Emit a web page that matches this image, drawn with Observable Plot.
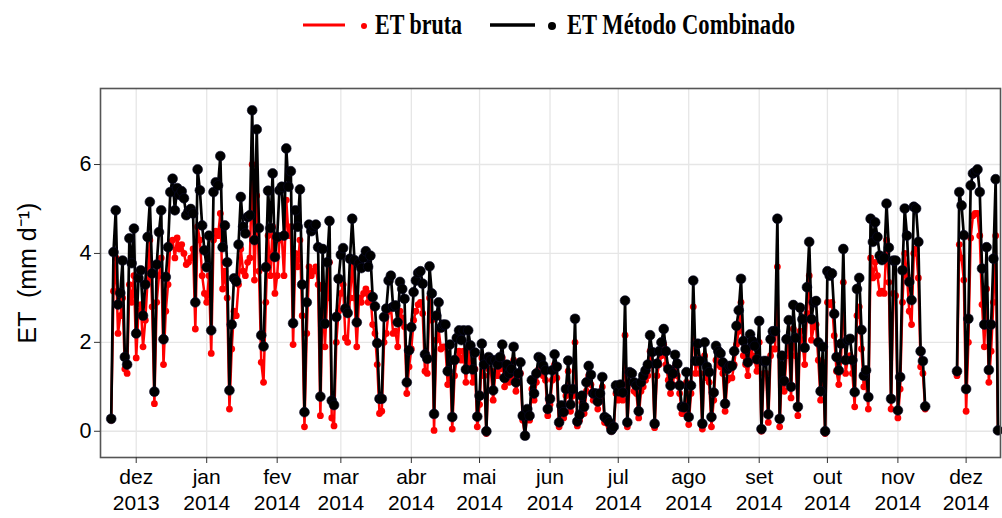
<!DOCTYPE html>
<html><head><meta charset="utf-8">
<script src="https://cdn.jsdelivr.net/npm/d3@7"></script>
<script src="https://cdn.jsdelivr.net/npm/@observablehq/plot@0.6"></script>
<style>
html,body{margin:0;padding:0;background:#fff;}
body{width:1002px;height:518px;overflow:hidden;font-family:"Liberation Sans",Arial,sans-serif;}
#legend{display:block;width:1002px;height:44px;}
#chart svg{display:block;}
</style></head><body>
<svg id="legend" width="1002" height="44"></svg>
<div id="chart"></div>
<script>
// ---- data (daily ET, mm/d) ----
const seriesNames = ["ET bruta", "ET Método Combinado"];
const monthLabels = ["dez","jan","fev","mar","abr","mai","jun","jul","ago","set","out","nov","dez"];
const yearLabels  = ["2013","2014","2014","2014","2014","2014","2014","2014","2014","2014","2014","2014","2014"];
const yTicks = [0, 2, 4, 6];

const combNov2013  = [0.28,4.03,4.97,2.85,3.11,3.84,1.67,1.50,4.34,3.78,4.56];
const brutaNov2013 = [0.25,3.15,3.9,2.2,2.6,3.0,1.4,1.3,3.3,2.9,3.5];
const combDec2013  = [2.2,3.45,3.62,2.6,3.3,4.37,5.16,3.55,0.89,3.75,4.48,4.97,2.07,3.47,4.14,5.38,5.68,4.97,5.47,5.32,5.4,5.24,4.86,4.95,5.0,4.9,2.9,5.89,5.42,4.63,4.07];
const brutaDec2013 = [1.65,2.7,2.85,1.9,2.5,3.4,4.3,2.8,0.62,2.9,3.5,3.9,1.5,2.7,3.3,4.25,4.3,3.9,4.35,4.1,4.2,4.0,3.75,3.8,3.9,4.1,2.3,4.6,4.3,3.5,3.1];
const combJan2014  = [3.69,4.4,2.27,5.38,5.6,5.53,6.19,4.14,4.63,3.8,0.92,2.4,3.44,3.37,4.2,5.27,4.6,4.45,4.82,4.86,7.22,4.3,6.79,4.57,2.16,1.91,3.69,5.41,4.57,5.8,3.92];
const brutaJan2014 = [2.9,3.5,1.75,4.3,4.5,4.4,4.9,3.2,3.6,3.0,0.5,1.85,2.7,2.6,3.3,4.1,3.6,3.5,3.8,3.9,6.0,3.4,5.3,3.6,1.55,1.1,2.9,4.4,3.5,4.6,3.1];
const combFeb2014  = [4.37,5.42,5.5,4.4,6.36,5.5,5.85,2.43,4.97,4.6,5.44,3.3,0.43,2.9,4.65,4.5,4.6,4.65,4.14,0.78,4.1,2.42,3.8,4.73,0.69,0.59,2.57,3.43];
const brutaFeb2014 = [3.5,4.3,4.4,3.5,5.2,4.4,4.6,1.95,4.0,3.7,4.3,2.6,0.1,2.2,3.7,3.5,3.6,3.7,3.3,0.35,3.2,1.9,3.0,3.8,0.3,0.12,2.0,2.7];
const combMar2014  = [3.97,4.12,2.76,2.66,3.88,4.78,3.85,2.45,3.78,3.67,3.9,4.05,3.7,3.95,3.02,2.81,1.98,0.73,0.73,2.57,2.76,3.39,3.5,2.8,2.83,2.45,3.36,3.2,2.98,1.1,1.82];
const brutaMar2014 = [3.1,3.3,2.1,2.0,3.0,3.8,3.0,1.9,3.0,2.9,3.1,3.2,2.9,3.1,2.4,2.2,1.5,0.4,0.45,2.0,2.2,2.7,2.8,2.2,2.25,1.9,2.7,2.55,2.35,0.85,1.45];
const combApr2014  = [2.34,3.13,3.39,3.56,3.6,3.32,1.73,1.63,3.71,3.1,0.39,2.6,2.9,2.33,2.4,2.4,1.35,1.95,0.32,1.6,2.1,2.27,2.05,2.27,1.39,2.27,1.93,1.39,1.77,0.33];
const brutaApr2014 = [1.85,2.5,2.7,2.85,2.9,2.65,1.35,1.3,3.0,2.5,0.02,2.05,2.3,1.85,1.9,1.9,1.05,1.55,0.05,1.25,1.65,1.8,1.6,1.8,1.1,1.8,1.5,1.1,1.4,0.1];
const combMay2014  = [0.8,1.97,1.5,0.0,1.67,1.6,0.92,1.6,1.5,1.67,1.95,1.2,1.5,1.3,1.4,1.9,1.1,1.3,1.55,0.35,-0.1,0.5,0.35,1.15,0.85,1.3,1.67,1.63,1.48,1.37,0.5];
const brutaMay2014 = [0.6,1.65,1.25,-0.05,1.4,1.35,0.7,1.35,1.25,1.4,1.65,1.0,1.25,1.1,1.2,1.6,0.9,1.1,1.3,0.25,-0.12,0.4,0.25,0.95,0.7,1.1,1.4,1.4,1.25,1.15,0.35];
const combJun2014  = [0.73,1.37,1.73,1.45,0.2,0.58,0.43,0.95,1.59,0.6,0.95,2.53,0.22,0.37,0.8,0.55,1.1,1.47,1.27,0.85,0.85,0.67,0.85,1.22,0.32,0.28,0.2,0.03,0.1,1.03];
const brutaJun2014 = [0.6,1.15,1.5,1.2,0.1,0.45,0.3,0.8,1.35,0.45,0.8,2.0,0.12,0.25,0.65,0.4,0.9,1.25,1.05,0.7,0.7,0.5,0.7,1.0,0.2,0.18,0.1,0.0,0.05,0.85];
const combJul2014  = [0.9,1.05,0.87,2.94,0.2,1.33,1.3,1.1,1.03,0.45,1.1,1.25,1.37,1.5,2.16,1.78,0.17,1.52,1.8,2.0,2.3,1.8,1.4,1.03,1.3,1.72,1.52,1.03,0.55,0.54,1.33];
const brutaJul2014 = [0.7,0.85,0.7,2.16,0.1,1.1,1.1,0.9,0.85,0.3,0.9,1.0,1.15,1.25,1.8,1.5,0.08,1.25,1.5,1.7,1.95,1.5,1.15,0.85,1.05,1.45,1.25,0.85,0.4,0.4,1.1];
const combAug2014  = [0.32,1.03,3.39,1.58,1.97,1.58,0.17,2.0,1.45,1.33,0.32,0.87,1.92,1.8,1.75,1.55,0.62,1.4,1.47,1.47,1.8,2.37,2.72,3.43,2.03,1.85,1.55,2.18,2.03,1.92,1.62];
const brutaAug2014 = [0.15,0.85,2.8,1.3,1.65,1.3,0.05,1.7,1.2,1.1,0.1,0.7,1.6,1.5,1.45,1.3,0.45,1.15,1.2,1.2,1.5,1.95,2.25,2.9,1.7,1.5,1.25,1.8,1.7,1.6,1.35];
const combSep2014  = [2.48,0.05,1.58,1.58,0.38,2.07,2.25,2.25,4.78,0.28,1.7,1.13,2.07,2.5,1.0,2.84,2.1,0.55,2.78,2.52,1.88,3.24,4.26,2.52,2.9,2.93,2.0,0.9,1.9,0.0];
const brutaSep2014 = [2.0,0.0,1.3,1.3,0.2,1.7,1.85,1.85,3.7,0.1,1.4,0.9,1.7,2.05,0.75,2.3,1.7,0.35,2.25,2.05,1.5,2.65,3.5,2.05,2.35,2.4,1.6,0.7,1.55,-0.05];
const combOct2014  = [3.6,3.5,3.55,2.64,1.67,1.37,1.97,4.1,1.6,2.05,2.08,1.6,0.88,3.2,3.45,2.28,1.25,1.37,0.77,4.78,4.26,4.7,4.37,3.95,3.85,3.9,5.12,4.13,0.73,3.84,3.84];
const brutaOct2014 = [2.9,2.85,2.9,2.15,1.35,1.05,1.6,3.35,1.3,1.65,1.7,1.3,0.55,2.6,2.8,1.85,1.0,1.1,0.5,3.9,3.45,3.8,3.5,3.1,3.15,3.1,4.3,3.35,0.5,3.1,3.05];
const combNov2014a  = [0.47,1.22,3.62,5.01,4.4,3.36,2.95,5.05,5.01,4.26,1.8,1.58,0.56];
const brutaNov2014a = [0.3,0.95,2.9,4.0,3.5,2.7,2.4,4.0,4.1,3.45,1.45,1.3,0.5];
const combNov2014b  = [1.35,5.38,5.08,4.41];
const brutaNov2014b = [1.25,4.2,3.9,3.4];
const combDec2014  = [0.95,2.53,5.53,5.8,5.83,5.89,5.38,3.66,2.4,4.14,1.38,2.4,3.88,5.67,0.02];
const brutaDec2014 = [0.45,2.0,4.35,4.85,4.9,4.9,4.4,2.85,1.9,3.2,1.1,1.8,2.9,4.4,0.0];

// segments: [first day, combined, raw, continuous part]
const segments = [
  ["2013-11-20", combNov2013, brutaNov2013, 1],
  ["2013-12-01", combDec2013, brutaDec2013, 1],
  ["2014-01-01", combJan2014, brutaJan2014, 1],
  ["2014-02-01", combFeb2014, brutaFeb2014, 1],
  ["2014-03-01", combMar2014, brutaMar2014, 1],
  ["2014-04-01", combApr2014, brutaApr2014, 1],
  ["2014-05-01", combMay2014, brutaMay2014, 1],
  ["2014-06-01", combJun2014, brutaJun2014, 1],
  ["2014-07-01", combJul2014, brutaJul2014, 1],
  ["2014-08-01", combAug2014, brutaAug2014, 1],
  ["2014-09-01", combSep2014, brutaSep2014, 1],
  ["2014-10-01", combOct2014, brutaOct2014, 1],
  ["2014-11-01", combNov2014a, brutaNov2014a, 1],
  ["2014-11-27", combNov2014b, brutaNov2014b, 2],
  ["2014-12-01", combDec2014, brutaDec2014, 2]
];
const tickMonths = ["2013-12-01","2014-01-01","2014-02-01","2014-03-01","2014-04-01","2014-05-01","2014-06-01","2014-07-01","2014-08-01","2014-09-01","2014-10-01","2014-11-01","2014-12-01"];

// ---- build table ----
const rows = [];
for (const [start, comb, bruta, part] of segments) {
  const t0 = new Date(start + "T00:00:00Z");
  comb.forEach((v, i) => {
    rows.push({date: d3.utcDay.offset(t0, i), comb: v, bruta: bruta[i], part});
  });
}
const tickDates = tickMonths.map(s => new Date(s + "T00:00:00Z"));
const tickText = new Map(tickDates.map((d, i) => [+d, monthLabels[i] + "\n" + yearLabels[i]]));

const chart = Plot.plot({
  width: 1002,
  height: 474,
  marginLeft: 100,
  marginRight: 2,
  marginTop: 44,
  marginBottom: 61,
  style: {fontFamily: "'Liberation Sans', Arial, sans-serif", background: "#fff", color: "#000"},
  x: {type: "utc", domain: [new Date(Date.UTC(2013,10,15,7)), new Date(Date.UTC(2014,11,16,3))]},
  y: {domain: [-0.59, 7.71]},
  marks: [
    Plot.gridX(tickDates, {stroke: "#e6e6e6", strokeOpacity: 1, strokeWidth: 1.3}),
    Plot.gridY(yTicks, {stroke: "#e6e6e6", strokeOpacity: 1, strokeWidth: 1.3}),
    Plot.line(rows, {x: "date", y: "bruta", z: "part", stroke: "#ff0000", strokeWidth: 2.5}),
    Plot.dot(rows, {x: "date", y: "bruta", r: 3.4, fill: "#ff0000", stroke: "none"}),
    Plot.line(rows, {x: "date", y: "comb", z: "part", stroke: "#000", strokeWidth: 2.7}),
    Plot.dot(rows, {x: "date", y: "comb", r: 4.9, fill: "#000", stroke: "#0a0a2a", strokeWidth: 0.6}),
    Plot.frame({stroke: "#555", strokeWidth: 1.6}),
    Plot.axisX(tickDates, {tickSize: 6, tickPadding: 3, fontSize: 21, lineHeight: 1.2,
      tickFormat: d => tickText.get(+d), stroke: "#333", label: null}),
    Plot.axisY(yTicks, {tickSize: 6, tickPadding: 3, fontSize: 21.5, stroke: "#333", label: null}),
    Plot.axisY([], {tickSize: 0, fontSize: 25, label: "ET  (mm d\u207B\u00B9)", labelAnchor: "center", labelArrow: "none", labelOffset: 82})
  ]
});
document.getElementById("chart").appendChild(chart);

// ---- legend ----
const lg = d3.select("#legend");
const items = [
  {name: seriesNames[0], color: "#ff0000", x1: 303, x2: 345, dx: 364, r: 3, w: 3, tx: 375, tl: 87},
  {name: seriesNames[1], color: "#000", x1: 490, x2: 535, dx: 552, r: 4, w: 3.5, tx: 567, tl: 228}
];
for (const it of items) {
  lg.append("line").attr("x1", it.x1).attr("x2", it.x2).attr("y1", 25).attr("y2", 25)
    .attr("stroke", it.color).attr("stroke-width", it.w);
  lg.append("circle").attr("cx", it.dx).attr("cy", 26).attr("r", it.r).attr("fill", it.color);
  lg.append("text").attr("x", it.tx).attr("y", 34).text(it.name)
    .attr("font-family", "'Liberation Serif', 'Times New Roman', serif").attr("font-weight", "bold")
    .attr("font-size", 29).attr("textLength", it.tl).attr("lengthAdjust", "spacingAndGlyphs").attr("fill", "#000");
}
</script>
</body></html>
